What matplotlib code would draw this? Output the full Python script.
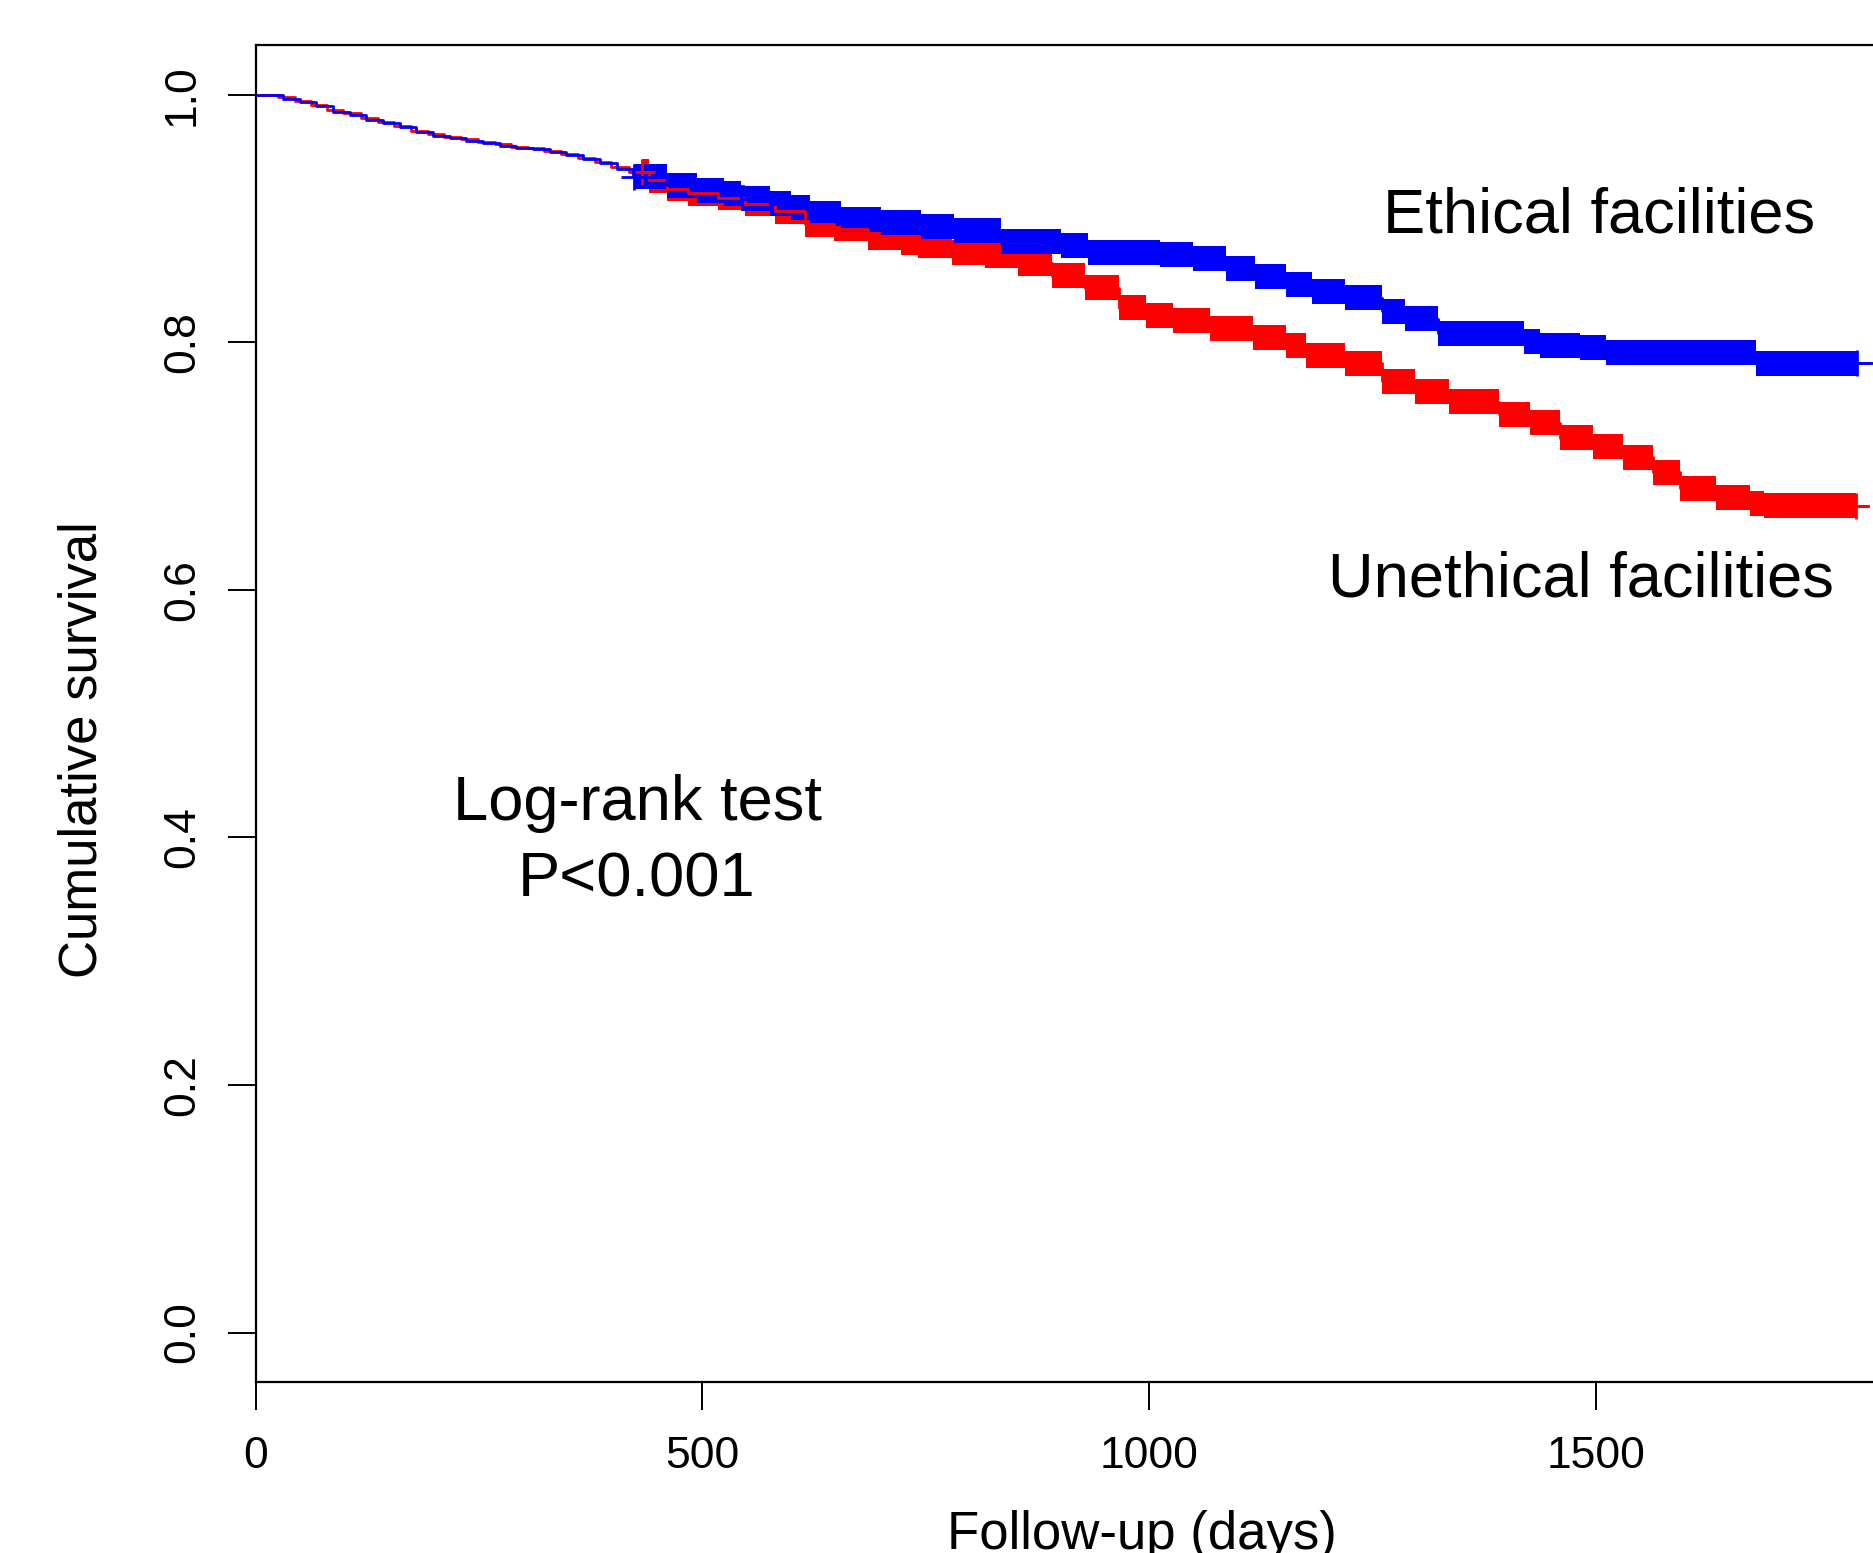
"""Kaplan-Meier curves: ethical vs unethical facilities."""

import matplotlib

matplotlib.use("Agg")
import matplotlib.pyplot as plt
import numpy as np

plt.rcParams["font.family"] = ["Liberation Sans", "DejaVu Sans"]

# survival steps (days, cumulative survival)
ethical_time = [0, 31, 50, 68, 87, 106, 124, 143, 162, 180, 199, 218, 236, 255,
                274, 292, 311, 330, 348, 367, 386, 404, 423, 461, 494, 524, 543,
                576, 599, 621, 655, 700, 745, 782, 834, 902, 932, 1012, 1049,
                1086, 1119, 1153, 1183, 1220, 1261, 1287, 1324, 1420, 1438,
                1482, 1512, 1680, 1809]
ethical_surv = [1.000, 0.997, 0.994, 0.991, 0.986, 0.984, 0.980, 0.977, 0.974,
                0.970, 0.967, 0.965, 0.963, 0.961, 0.959, 0.957, 0.956, 0.954,
                0.951, 0.948, 0.945, 0.940, 0.934, 0.927, 0.923, 0.9205, 0.916,
                0.912, 0.909, 0.904, 0.899, 0.897, 0.894, 0.890, 0.8815, 0.878,
                0.873, 0.871, 0.8675, 0.860, 0.853, 0.8465, 0.841, 0.836, 0.825,
                0.819, 0.8075, 0.801, 0.7975, 0.7955, 0.792, 0.783, 0.783]

unethical_time = [0, 25, 44, 62, 80, 98, 118, 137, 155, 174, 193, 211, 230, 249,
                  268, 286, 305, 323, 342, 361, 380, 398, 418, 440, 461, 484,
                  518, 548, 581, 615, 648, 685, 723, 742, 779, 816, 853, 891,
                  928, 967, 997, 1027, 1068, 1116, 1153, 1176, 1220, 1261, 1298,
                  1336, 1392, 1426, 1460, 1497, 1531, 1564, 1594, 1635, 1673,
                  1688, 1805]
unethical_surv = [1.000, 0.998, 0.995, 0.992, 0.988, 0.985, 0.981, 0.978, 0.975,
                  0.971, 0.968, 0.966, 0.964, 0.962, 0.960, 0.958, 0.957, 0.955,
                  0.952, 0.949, 0.946, 0.942, 0.938, 0.931, 0.924, 0.9205, 0.917,
                  0.912, 0.906, 0.8955, 0.892, 0.885, 0.881, 0.878, 0.873, 0.870,
                  0.864, 0.854, 0.844, 0.828, 0.822, 0.8175, 0.811, 0.804,
                  0.7975, 0.789, 0.783, 0.7685, 0.760, 0.752, 0.742, 0.735,
                  0.723, 0.716, 0.707, 0.695, 0.682, 0.675, 0.670, 0.668, 0.668]

# dense runs of censoring marks (days)
ethical_censor = (424, 1793)
unethical_censor = (432, 1791)

x_ticks = [0, 500, 1000, 1500]
y_ticks = [0.0, 0.2, 0.4, 0.6, 0.8, 1.0]
y_labels = ["0.0", "0.2", "0.4", "0.6", "0.8", "1.0"]

MARK = 0.0101  # half height of a censor "+" in survival units


def censor_band(ax, times, surv, span, color):
    """Fill the run of overlapping censor marks along the step curve."""
    times = np.asarray(times)
    surv = np.asarray(surv)
    start, end = span
    inside = (times > start) & (times < end)
    x = np.concatenate([[start], times[inside], [end]])
    y = surv[np.searchsorted(times, x, side="right") - 1]
    ax.fill_between(x, y - MARK, y + MARK, step="post", color=color, lw=0)
    ax.plot([start, end], [y[0], y[-1]], "+", color=color, ms=19, mew=2)


fig = plt.figure(figsize=(18.73, 15.53), dpi=100)
ax = fig.add_axes([0.13646, 0.1101, 0.8967, 0.8607])

censor_band(ax, unethical_time, unethical_surv, unethical_censor, "#ff0000")
ax.step(unethical_time, unethical_surv, where="post", color="#ff0000", lw=2)
censor_band(ax, ethical_time, ethical_surv, ethical_censor, "#0000ff")
ax.step(ethical_time, ethical_surv, where="post", color="#0000ff", lw=2)

ax.set_xlim(0, 1880)
ax.set_ylim(-0.04, 1.04)

ax.set_xticks(x_ticks)
ax.set_xticklabels([str(t) for t in x_ticks])
ax.set_yticks(y_ticks)
ax.set_yticklabels(y_labels, rotation=90, va="center")
ax.tick_params(axis="both", length=20, width=1.4, labelsize=32, color="black")
ax.tick_params(axis="x", pad=19)
ax.tick_params(axis="y", pad=18)
for spine in ax.spines.values():
    spine.set_linewidth(1.6)

ax.text(1262, 0.889, "Ethical facilities", fontsize=45.5, ha="left", va="baseline")
ax.text(1200, 0.595, "Unethical facilities", fontsize=45.5, ha="left", va="baseline")
ax.text(427, 0.4137, "Log-rank test", fontsize=45.5, ha="center", va="baseline")
ax.text(427, 0.352, "P<0.001", fontsize=45.5, ha="center", va="baseline")

fig.text(83 / 1873, 1 - 750 / 1553, "Cumulative survival", fontsize=38,
         rotation=90, ha="center", va="center")
fig.text(1142 / 1873, 4 / 1553, "Follow-up (days)", fontsize=38,
         ha="center", va="baseline")

fig.savefig("out.png", dpi=100)
